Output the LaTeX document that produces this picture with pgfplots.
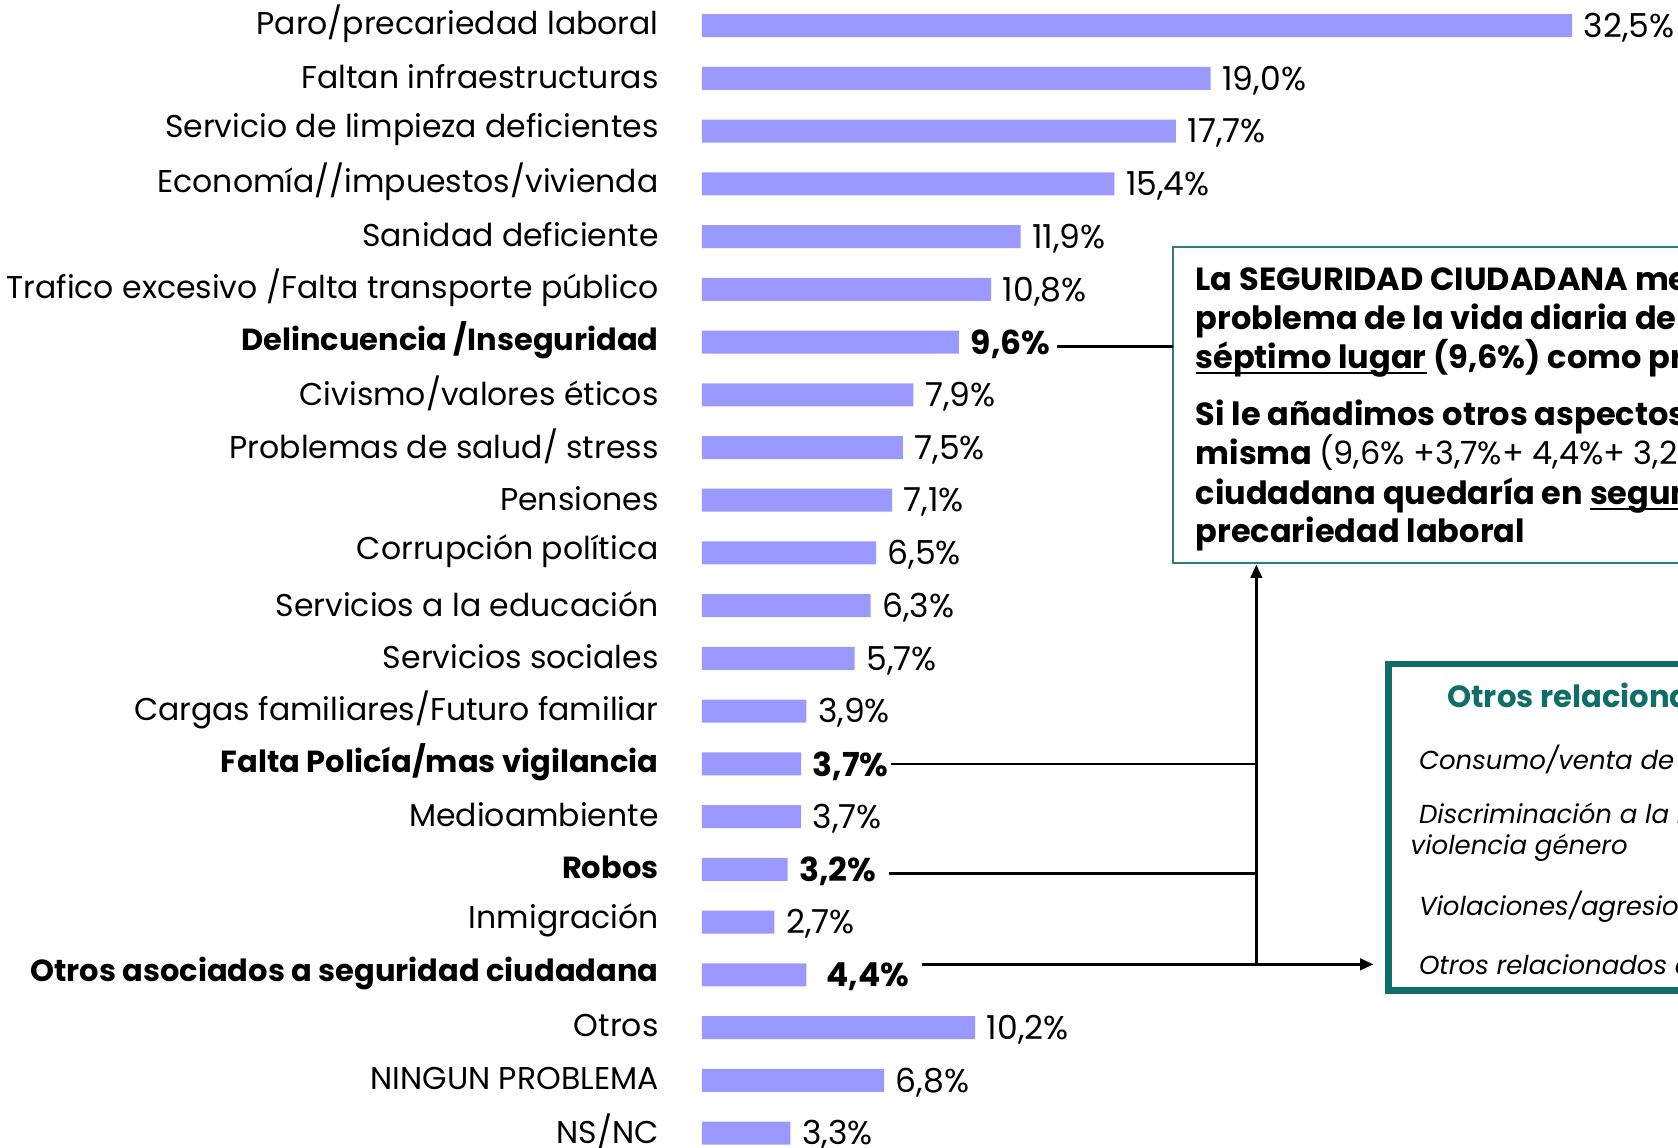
\documentclass[border=0pt]{standalone}
\usepackage{pgfplots}
\usepackage{pgfplotstable}
\pgfplotsset{compat=1.18}
\usepackage{fontspec}
\setmainfont{Poppins}
\usetikzlibrary{arrows.meta}
\definecolor{barblue}{RGB}{153,153,255}
\definecolor{teal1}{RGB}{16,110,104}
\definecolor{teal2}{RGB}{46,125,120}
\newcommand{\ul}[1]{\underline{\smash{#1}}}
\newcommand{\lab}{\fontsize{9.45}{11}\selectfont}
\newcommand{\blab}{\fontsize{9.15}{11}\selectfont\bfseries}
\pgfplotstableread{
y x lab
0 32.5 32,5\%
1 19.0 19,0\%
2 17.7 17,7\%
3 15.4 15,4\%
4 11.9 11,9\%
5 10.8 10,8\%
6 9.6 \textbf{9,6\%}
7 7.9 7,9\%
8 7.5 7,5\%
9 7.1 7,1\%
10 6.5 6,5\%
11 6.3 6,3\%
12 5.7 5,7\%
13 3.9 3,9\%
14 3.7 \textbf{3,7\%}
15 3.7 3,7\%
16 3.2 \textbf{3,2\%}
17 2.7 2,7\%
18 3.9 \hspace{2.5pt}\textbf{4,4\%}
19 10.2 10,2\%
20 6.8 6,8\%
21 3.3 3,3\%
}\datatable
\begin{document}
\begin{tikzpicture}
\useasboundingbox (0,0) rectangle (503.4pt,-344.4pt);
\clip (0,0) rectangle (503.4pt,-344.4pt);
\begin{axis}[
  at={(210.6pt,-7.7pt)}, anchor=north west,
  scale only axis, width=261pt, height=332.2pt,
  xbar, bar width=6.9pt,
  xmin=0, xmax=32.5, ymin=0, ymax=21, y dir=reverse,
  clip=false,
  axis line style={draw=none},
  xtick=\empty,
  ytick={0,...,21},
  major tick length=0pt,
  yticklabels={{Paro/precariedad laboral},{Faltan infraestructuras},{Servicio de limpieza deficientes},{Economía//impuestos/vivienda},{Sanidad deficiente},{Trafico excesivo /Falta transporte público},{\blab Delincuencia /Inseguridad},{Civismo/valores éticos},{Problemas de salud/ stress},{Pensiones},{Corrupción política},{Servicios a la educación},{Servicios sociales},{Cargas familiares/Futuro familiar},{\blab Falta Policía/mas vigilancia},{Medioambiente},{\blab Robos},{Inmigración},{\blab Otros asociados a seguridad ciudadana},{Otros},{NINGUN PROBLEMA},{NS/NC}},
  yticklabel style={font=\lab, xshift=-9.5pt, yshift=0.5pt},
  point meta=explicit symbolic,
  nodes near coords,
  nodes near coords style={font=\fontsize{9.9}{11}\selectfont, anchor=west, yshift=-0.6pt, text=black},
]
\addplot[fill=barblue, draw=none] table[x=x, y=y, meta=lab] {\datatable};
\end{axis}
% annotation box 1
\draw[teal2, line width=0.65pt] (520pt,-74.2pt) -- (351.8pt,-74.2pt) -- (351.8pt,-168.8pt) -- (520pt,-168.8pt);
\begin{scope}[every node/.style={anchor=base west, inner sep=0pt, font=\fontsize{9.6}{12}\selectfont\bfseries}]
\node at (358.5pt,-87.3pt) {La SEGURIDAD CIUDADANA mencionada como};
\node at (358.5pt,-98.9pt) {problema de la vida diaria del municipio};
\node at (358.5pt,-110.5pt) {\ul{séptimo lugar} (9,6\%) como problema};
\node at (358.5pt,-127.8pt) {Si le añadimos otros aspectos relacionados con la};
\node at (358.5pt,-139.4pt) {misma \mdseries(9,6\% +3,7\%+ 4,4\%+ 3,2\%)};
\node at (358.5pt,-151.3pt) {ciudadana quedaría en \ul{segundo lugar}};
\node at (358.5pt,-162.8pt) {precariedad laboral};
\end{scope}
% annotation box 2
\draw[teal1, line width=2pt] (520pt,-199.2pt) -- (416.6pt,-199.2pt) -- (416.6pt,-297.2pt) -- (520pt,-297.2pt);
\node[anchor=base west, inner sep=0pt, text=teal1, font=\fontsize{9.2}{11}\selectfont\bfseries] at (434.0pt,-212.2pt) {Otros relacionados};
\begin{scope}[every node/.style={anchor=base west, inner sep=0pt, font=\fontsize{7.8}{10}\selectfont\itshape}]
\node at (425.5pt,-230.9pt) {Consumo/venta de drogas};
\node at (425.5pt,-247.0pt) {Discriminación a la mujer/};
\node at (423.0pt,-256.5pt) {violencia género};
\node at (425.5pt,-274.6pt) {Violaciones/agresiones};
\node at (425.5pt,-292.4pt) {Otros relacionados con};
\end{scope}
% connectors
\draw[black, line width=0.7pt] (317.2pt,-104.0pt) -- (351.8pt,-104.0pt);
\draw[black, line width=0.7pt, -{Triangle[length=4pt,width=3.5pt]}] (376.9pt,-289.3pt) -- (376.9pt,-169.4pt);
\draw[black, line width=0.7pt] (267.4pt,-229.2pt) -- (376.9pt,-229.2pt);
\draw[black, line width=0.7pt] (266.8pt,-262.0pt) -- (376.9pt,-262.0pt);
\draw[black, line width=0.7pt, -{Triangle[length=4pt,width=3.5pt]}] (276.7pt,-289.3pt) -- (412.0pt,-289.3pt);
\end{tikzpicture}
\end{document}
